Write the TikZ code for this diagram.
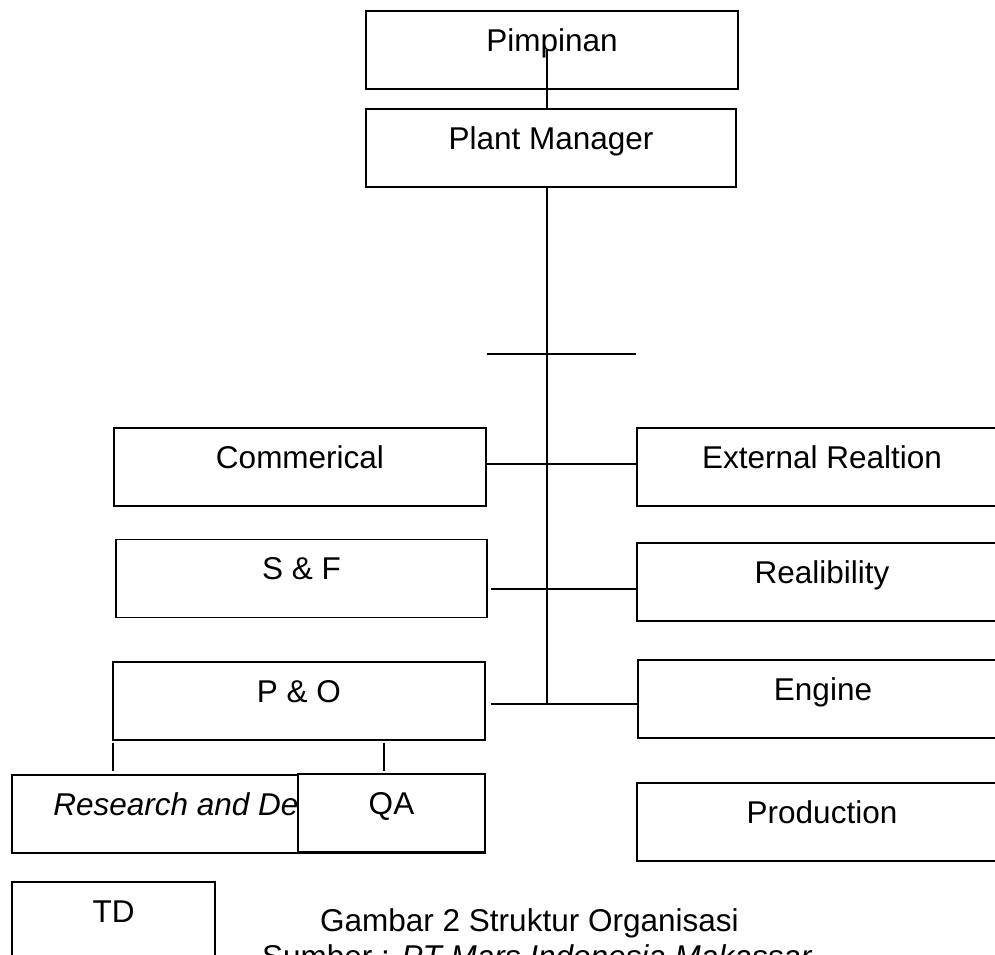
\documentclass[tikz,border=0pt]{standalone}
\usepackage{fontspec}
\setmainfont{Liberation Sans}

\begin{document}
\begin{tikzpicture}[x=1pt, y=-1pt, font=\fontsize{31.5}{36}\selectfont]
    \tikzstyle{box}=[draw, rectangle, line width=1.3pt, inner sep=0pt, minimum width=372pt, minimum height=78pt, text height=40pt, text depth=38pt]
    \tikzstyle{link}=[line width=2pt]
    \path[use as bounding box] (0,0) rectangle (995,954);
    \clip (0,0) rectangle (995,954);

    \node[box] (pimpinan) at (552,50) {Pimpinan};
    \node[box, minimum width=370pt] (manager) at (551,148) {Plant Manager};
    \node[box] (commercial) at (300,467) {Commerical};
    \node[box, minimum width=371pt] (sf) at (301.5,578.5) {S \& F};
    \node[box] (po) at (299,701) {P \& O};
    \node[box, minimum width=370pt] (external) at (822,467) {External Realtion};
    \node[box, minimum width=370pt] (reliability) at (822,582) {Realibility};
    \node[box, minimum width=370pt] (engine) at (823,699) {Engine};
    \node[box, minimum width=370pt] (production) at (822,822) {Production};
    \node[box, minimum width=473pt] (research) at (248.5,814) {\itshape Research and Development};
    \node[box, fill=white, minimum width=187pt] (qa) at (391.5,813) {QA};
    \node[box, minimum width=203pt] (td) at (113.5,921) {TD};

    \coordinate (bar) at (547,354);
    \coordinate (j1) at (547,464);
    \coordinate (j2) at (547,589);
    \coordinate (trunk) at (547,704);

    \draw[link] (pimpinan.center -| trunk) -- (manager.north -| trunk);
    \draw[link] (manager.south -| trunk) -- (trunk);
    \draw[link] ([xshift=-60pt]bar) -- ([xshift=89pt]bar);
    \draw[link] (j1 -| commercial.east) -- (j1 -| external.west);
    \draw[link] ([xshift=3pt]j2 -| sf.east) -- ([xshift=2pt]j2 -| reliability.west);
    \draw[link] ([xshift=5pt]trunk -| po.east) -- ([xshift=2pt]trunk -| engine.west);
    \draw[link] ([xshift=1pt, yshift=-2pt]po.south west) -- ([xshift=1pt, yshift=3pt]po.south west |- research.north);
    \draw[link] ([xshift=-7.5pt, yshift=-2pt]qa.north |- po.south) -- ([xshift=-7.5pt, yshift=2pt]qa.north);

    \node[anchor=base west, inner sep=0pt] (caption) at (320,931) {Gambar 2 Struktur Organisasi};
    \node[anchor=base west, inner sep=0pt] (source) at (262,967) {Sumber : \textit{PT Mars Indonesia Makassar}};
\end{tikzpicture}
\end{document}
